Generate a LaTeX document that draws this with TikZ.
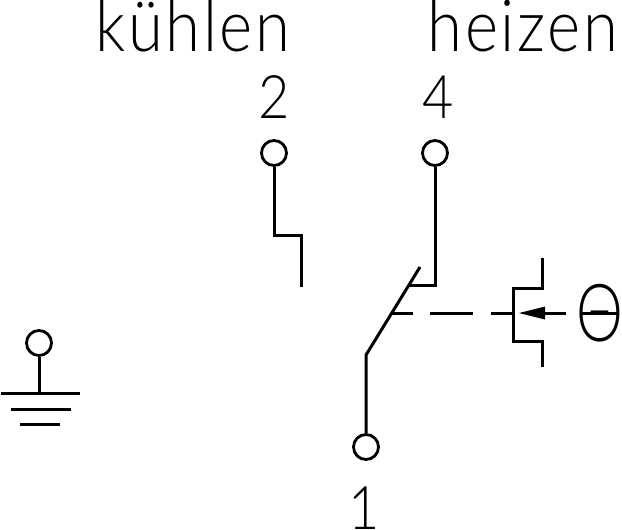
\documentclass[tikz,border=0pt]{standalone}
\usepackage{fontspec}
\setmainfont{Lato Light}
\usetikzlibrary{arrows.meta}
\tikzset{
  wire/.style={line width=3pt},
  terminal/.style={circle,draw,line width=2.8pt,minimum size=25pt,inner sep=0pt},
  word/.style={font=\fontsize{72}{72}\selectfont\addfontfeature{LetterSpace=4},inner sep=0pt,anchor=base,xscale=0.88,transform shape},
  digit/.style={font=\fontsize{60}{60}\selectfont,inner sep=0pt,anchor=base,xscale=0.9,transform shape},
  symbol/.style={font=\fontsize{80}{80}\selectfont,inner sep=0pt,anchor=center,xscale=0.74,transform shape}
}
\begin{document}
\begin{tikzpicture}[x=1pt,y=-1pt]
\useasboundingbox (0,0) rectangle (622,530);
\node [word] (cool) at (193,52) {kühlen};
\node [word] (heat) at (523,52) {heizen};
\node [digit] (n2) at (274.5,118) {2};
\node [digit] (n4) at (438,118) {4};
\node [digit] (n1) at (364,529) {1};
\node [terminal] (t2) at (274,153) {};
\node [terminal] (t4) at (435,153) {};
\node [terminal] (t1) at (366,447) {};
\node [terminal] (tg) at (39,343) {};
\node [symbol] (theta) at (600,313) {Θ};
\coordinate (g1) at (39,393);
\draw [wire] (t2) -- (274,235) -- (301,235) -- (301,287);
\draw [wire] (t4) -- (435,285) -- (408,285);
\draw [wire] (t1) -- (366,355) -- (420,267);
\draw [wire] (tg) -- (g1);
\draw [wire] (1,393) -- (80,393);
\draw [wire] (11,409) -- (71,409);
\draw [wire] (20,424) -- (60,424);
\draw [wire] (392,313) -- (413,313);
\draw [wire] (430,313) -- (473,313);
\draw [wire] (491,313) -- (513,313);
\draw [wire] (542,258) -- (542,288) -- (513,288) -- (513,341) -- (542,341) -- (542,367);
\draw [wire] (566,313) -- (545,313);
\draw [wire] (582,313) -- (618,313);
\fill (519,313) -- (545,306.5) -- (545,319.5) -- cycle;
\end{tikzpicture}
\end{document}
